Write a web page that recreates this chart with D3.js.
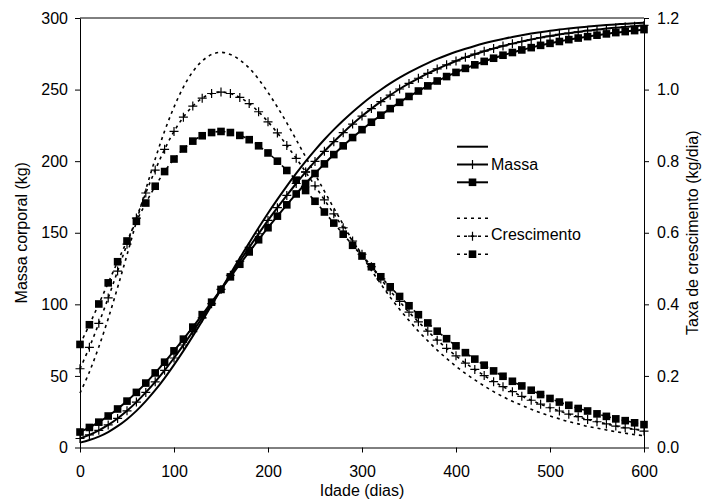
<!DOCTYPE html>
<html><head><meta charset="utf-8">
<script src="https://cdn.jsdelivr.net/npm/d3@7/dist/d3.min.js"></script>
<style>
body{margin:0;background:#fff}
text{font-family:"Liberation Sans",Arial,Helvetica,sans-serif}
</style>
</head><body><svg id="c" width="705" height="504"></svg>
<script>
const days = [0,10,20,30,40,50,60,70,80,90,100,110,120,130,140,150,160,170,180,190,200,
  210,220,230,240,250,260,270,280,290,300,310,320,330,340,350,360,370,380,390,400,
  410,420,430,440,450,460,470,480,490,500,510,520,530,540,550,560,570,580,590,600];

// Massa (kg) - three curves
const massA = [3.4,5.2,7.6,10.8,14.9,19.8,25.6,32.4,40.0,48.5,57.7,67.5,77.8,88.4,99.3,110.4,121.4,132.3,143.0,153.5,163.6,
  173.3,182.6,191.4,199.8,207.7,215.1,222.0,228.4,234.4,240.0,245.2,249.9,254.3,258.3,262.0,265.4,268.5,271.4,274.0,276.4,
  278.5,280.5,282.3,283.9,285.4,286.8,288.0,289.1,290.1,291.1,291.9,292.7,293.4,294.0,294.6,295.1,295.5,296.0,296.3,296.7];
const massB = [6.3,8.8,12.0,15.8,20.3,25.6,31.7,38.5,45.9,53.9,62.5,71.6,80.9,90.6,100.4,110.4,120.3,130.1,139.8,149.3,158.6,
  167.5,176.1,184.4,192.3,199.8,206.9,213.6,219.9,225.9,231.5,236.7,241.6,246.1,250.4,254.3,257.9,261.3,264.4,267.3,270.0,
  272.5,274.7,276.8,278.7,280.5,282.1,283.6,285.0,286.3,287.4,288.5,289.4,290.3,291.2,291.9,292.6,293.2,293.8,294.3,294.8];
const massC = [10.8,14.0,17.7,22.0,26.9,32.4,38.5,45.0,52.1,59.6,67.5,75.7,84.1,92.8,101.5,110.4,119.2,128.0,136.6,145.1,153.5,
  161.6,169.5,177.1,184.4,191.4,198.1,204.6,210.7,216.5,222.0,227.2,232.1,236.7,241.1,245.2,249.0,252.6,256.0,259.1,262.0,
  264.8,267.3,269.7,271.9,274.0,275.9,277.7,279.3,280.9,282.3,283.6,284.9,286.0,287.0,288.0,288.9,289.8,290.5,291.2,291.9];

// Taxa de crescimento (kg/dia) - three curves
const rateA = [0.152,0.211,0.281,0.360,0.447,0.538,0.631,0.721,0.806,0.884,0.951,1.007,1.050,1.080,1.098,1.104,1.098,1.083,1.060,1.029,0.992,
  0.951,0.907,0.860,0.812,0.764,0.716,0.669,0.623,0.578,0.536,0.495,0.457,0.420,0.386,0.355,0.325,0.298,0.272,0.249,0.227,
  0.207,0.189,0.172,0.156,0.142,0.129,0.118,0.107,0.097,0.088,0.080,0.072,0.066,0.059,0.054,0.049,0.044,0.040,0.036,0.033];
const rateB = [0.220,0.280,0.347,0.418,0.493,0.568,0.641,0.711,0.775,0.833,0.883,0.923,0.954,0.976,0.989,0.993,0.989,0.978,0.961,0.938,0.910,
  0.879,0.844,0.808,0.770,0.731,0.692,0.653,0.614,0.577,0.540,0.505,0.471,0.438,0.408,0.378,0.351,0.325,0.300,0.277,0.256,
  0.236,0.218,0.201,0.184,0.170,0.156,0.143,0.132,0.121,0.111,0.102,0.093,0.086,0.078,0.072,0.066,0.060,0.055,0.051,0.046];
const rateC = [0.288,0.343,0.401,0.460,0.519,0.577,0.632,0.683,0.730,0.771,0.806,0.834,0.856,0.871,0.880,0.883,0.880,0.872,0.860,0.843,0.823,
  0.800,0.774,0.747,0.718,0.688,0.658,0.627,0.596,0.565,0.535,0.505,0.477,0.449,0.422,0.396,0.371,0.348,0.325,0.304,0.284,
  0.265,0.247,0.230,0.214,0.199,0.185,0.172,0.160,0.148,0.137,0.127,0.118,0.109,0.102,0.094,0.087,0.080,0.075,0.069,0.064];

const xTicks = [0,100,200,300,400,500,600];
const leftTicks = [0,50,100,150,200,250,300];
const rightTicks = [0,0.2,0.4,0.6,0.8,1.0,1.2];
const legendLabels = ["Massa","Crescimento"];
const xTitle = "Idade (dias)";
const yLeftTitle = "Massa corporal (kg)";
const yRightTitle = "Taxa de crescimento (kg/dia)";

const svg = d3.select("#c");
const L = 80, R = 644, T = 18, B = 447.5;
const x = d3.scaleLinear().domain([0,600]).range([L,R]);
const yL = d3.scaleLinear().domain([0,300]).range([B,T]);
const yR = d3.scaleLinear().domain([0,1.2]).range([B,T]);
const FS = 16;

// axes
function styleAxis(g){
  g.selectAll("path.domain").attr("stroke","#000").attr("stroke-width",1);
  g.selectAll(".tick line").attr("stroke","#000").attr("stroke-width",1);
  g.selectAll("text").attr("font-size",FS).attr("fill","#000")
   .attr("font-family",'"Liberation Sans",Arial,sans-serif');
}
svg.append("g").attr("transform",`translate(0,${B})`)
  .call(d3.axisBottom(x).tickValues(xTicks).tickSize(5).tickSizeOuter(0).tickPadding(13).tickFormat(d3.format("d")))
  .call(styleAxis);
svg.append("g").attr("transform",`translate(${L},0)`)
  .call(d3.axisLeft(yL).tickValues(leftTicks).tickSize(5).tickSizeOuter(0).tickPadding(7).tickFormat(d3.format("d")))
  .call(styleAxis);
svg.append("g").attr("transform",`translate(${R},0)`)
  .call(d3.axisRight(yR).tickValues(rightTicks).tickSize(5).tickSizeOuter(0).tickPadding(8).tickFormat(d3.format(".1f")))
  .call(styleAxis);
svg.append("line").attr("x1",L).attr("x2",R).attr("y1",T).attr("y2",T).attr("stroke","#000").attr("stroke-width",1);

// titles
svg.append("text").attr("x",(L+R)/2).attr("y",496).attr("text-anchor","middle").attr("font-size",FS).text(xTitle);
svg.append("text").attr("transform",`translate(27,${(T+B)/2}) rotate(-90)`).attr("text-anchor","middle").attr("font-size",FS).text(yLeftTitle);
svg.append("text").attr("transform",`translate(698,${(T+B)/2}) rotate(-90)`).attr("text-anchor","middle").attr("font-size",FS).text(yRightTitle);

// series
const series = [
  {vals:massA, y:yL, dash:null, marker:null},
  {vals:massB, y:yL, dash:null, marker:"plus"},
  {vals:massC, y:yL, dash:null, marker:"square"},
  {vals:rateA, y:yR, dash:"3,4", marker:null},
  {vals:rateB, y:yR, dash:"3,4", marker:"plus"},
  {vals:rateC, y:yR, dash:"3,4", marker:"square"}
];
const plot = svg.append("g");
function drawMarker(g, type, cx, cy){
  if(type==="plus"){
    g.append("path").attr("d",`M${cx-4.5},${cy}H${cx+4.5}M${cx},${cy-4.5}V${cy+4.5}`)
      .attr("stroke","#000").attr("stroke-width",1.2).attr("fill","none");
  } else if(type==="square"){
    g.append("rect").attr("x",cx-3.8).attr("y",cy-3.8).attr("width",7.6).attr("height",7.6).attr("fill","#000");
  }
}
series.forEach(s=>{
  const line = d3.line().x((d,i)=>x(days[i])).y(d=>s.y(d)).curve(d3.curveCatmullRom);
  plot.append("path").datum(s.vals).attr("d",line).attr("fill","none").attr("stroke","#000")
    .attr("stroke-width", s.dash ? 1.6 : 2).attr("stroke-dasharray", s.dash);
  if(s.marker){
    const mg = plot.append("g");
    s.vals.forEach((v,i)=>drawMarker(mg, s.marker, x(days[i]), s.y(v)));
  }
});

// legend
const lg = svg.append("g");
const lx1 = 457, lx2 = 488, lmx = 472.5;
const rows = [146.7,164.5,182.3,218.3,236.2,254.2];
series.forEach((s,i)=>{
  lg.append("line").attr("x1",lx1).attr("x2",lx2).attr("y1",rows[i]).attr("y2",rows[i])
    .attr("stroke","#000").attr("stroke-width", s.dash?1.6:2).attr("stroke-dasharray", s.dash);
  if(s.marker) drawMarker(lg, s.marker, lmx, rows[i]);
});
lg.append("text").attr("x",491).attr("y",rows[1]).attr("dy","0.36em").attr("font-size",FS).text(legendLabels[0]);
lg.append("text").attr("x",491).attr("y",rows[4]-2).attr("dy","0.36em").attr("font-size",FS).text(legendLabels[1]);
</script>
</body></html>
